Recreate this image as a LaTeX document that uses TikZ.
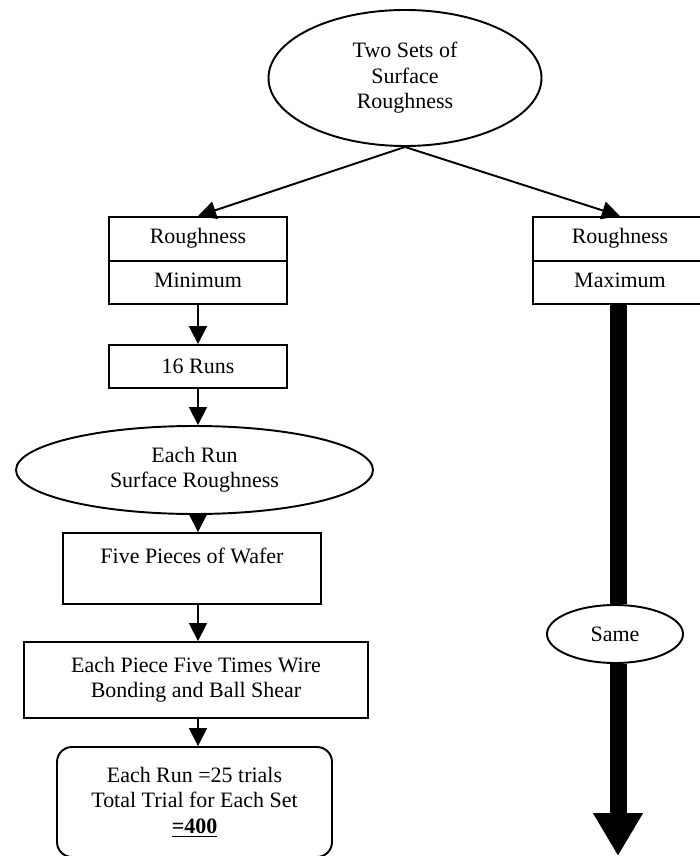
\documentclass[tikz,border=0pt]{standalone}
\usepackage{fontspec}
\setmainfont{Liberation Serif}
\usetikzlibrary{arrows.meta,shapes.geometric,shapes.multipart}
\tikzset{box/.style={draw,fill=white,line width=1.1pt,inner sep=0pt,align=center,
                     font=\fontsize{12.5}{14.5}\selectfont},
         oval/.style={box,ellipse},
         twobox/.style={box,rectangle split,rectangle split parts=2,inner ysep=4.6pt},
         arr/.style={-{Triangle[length=3.6mm,width=3.6mm]},line width=1.1pt},
         bigarr/.style={line width=3.4mm}}

\begin{document}
\begin{tikzpicture}[x=0.2mm,y=-0.2mm]
  \useasboundingbox (0,0) rectangle (699,856);
  \node[oval,minimum width=54.6mm,minimum height=27.2mm] (sets) at (405,78) {Two Sets of\\Surface\\Roughness};
  \node[twobox,minimum width=35.6mm,anchor=north] (minbox) at (198,216) {\strut Roughness\nodepart{two}\strut Minimum};
  \node[twobox,minimum width=34.8mm,anchor=north] (maxbox) at (620,216) {\strut Roughness\nodepart{two}\strut Maximum};
  \node[box,minimum width=35.6mm,minimum height=8.6mm] (runs) at (198,366.5) {16 Runs};
  \node[oval,minimum width=71.4mm,minimum height=17.6mm] (eachrun) at (194.5,470) {Each Run\\Surface Roughness};
  \node[box,minimum width=51.6mm,minimum height=14.2mm] (wafer) at (192,568.5) {Five Pieces of Wafer\\ \mbox{}};
  \node[box,minimum width=68.8mm,minimum height=15.2mm] (piece) at (196,680) {Each Piece Five Times Wire\\Bonding and Ball Shear};
  \node[box,rounded corners=3mm,minimum width=55mm,minimum height=22mm] (total) at (194.5,802) {Each Run =25 trials\\Total Trial for Each Set\\\underline{\textbf{=400}}};
  \node[oval,minimum width=27.2mm,minimum height=11.6mm] (same) at (615,634) {Same};
  \coordinate (end) at (618,856);

  \draw[arr] (sets.south) -- (minbox.north);
  \draw[arr] (sets.south) -- (maxbox.north);
  \draw[arr] (minbox.south) -- (runs.north);
  \draw[arr] (runs.south) -- (runs.south |- eachrun.north);
  \draw[arr] (runs.south |- eachrun.south) -- (runs.south |- wafer.north);
  \draw[arr] (runs.south |- wafer.south) -- (runs.south |- piece.north);
  \draw[arr] (runs.south |- piece.south) -- (runs.south |- total.north);
  \draw[bigarr] (end |- maxbox.south) -- (end |- same.north);
  \draw[bigarr,-{Triangle[length=8.6mm,width=9.4mm]}] (end |- same.south) -- (end);
\end{tikzpicture}
\end{document}
